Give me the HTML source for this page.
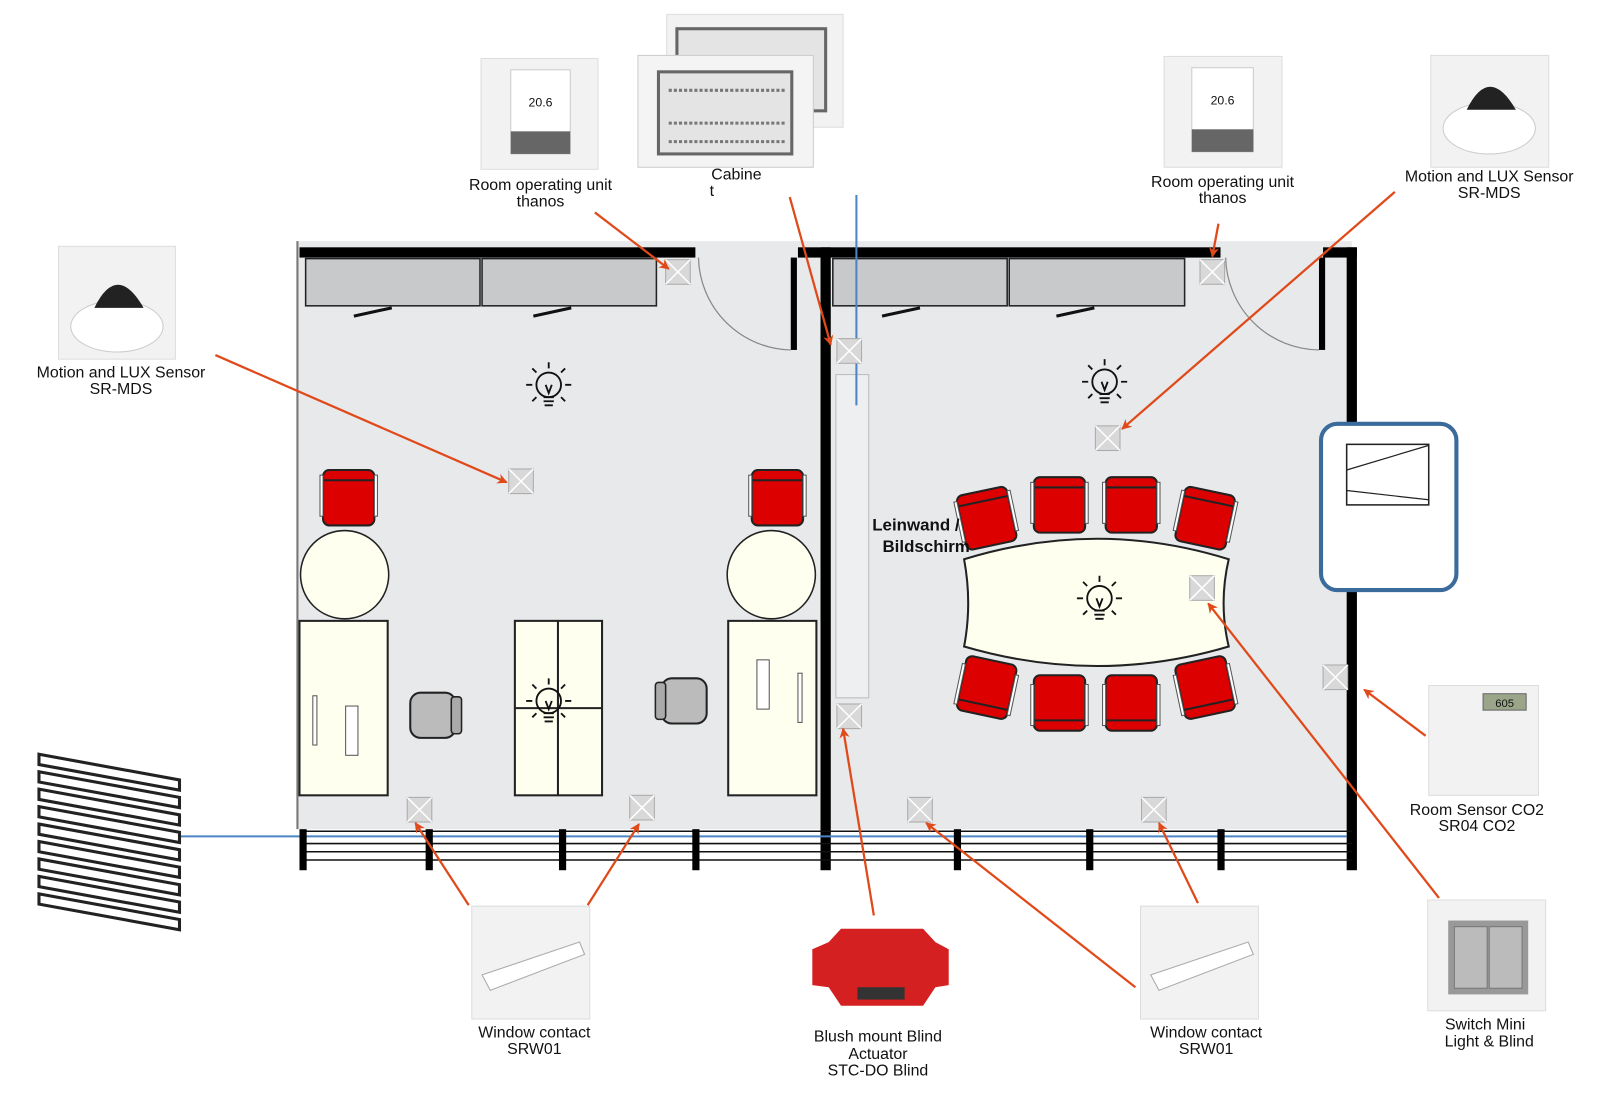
<!DOCTYPE html>
<html><head><meta charset="utf-8"><style>
html,body{margin:0;padding:0;background:#fff;}
svg{display:block;}
text{font-family:"Liberation Sans",sans-serif;font-size:15.5px;fill:#111;text-anchor:middle;}
</style></head><body>
<svg width="1600" height="1096" viewBox="0 0 1560 1068" preserveAspectRatio="none" xmlns="http://www.w3.org/2000/svg">
<defs>
<marker id="ah" markerWidth="10" markerHeight="10" refX="9" refY="5" orient="auto" markerUnits="userSpaceOnUse">
<path d="M0,0 L10,5 L0,10 L3,5 z" fill="#e04a1a"/></marker>
<g id="sen"><rect x="-12" y="-12" width="24" height="24" fill="#d8d8d8" stroke="#aaa"/><path d="M-12,-12 L12,12 M12,-12 L-12,12" stroke="#fff" stroke-width="1.5"/></g>
<g id="bulb" fill="none" stroke="#111" stroke-width="1.8"><circle cx="0" cy="-2" r="12"/><path d="M-5,10 h10 M-5,14 h10 M-4,18 h8 M-3,-2 l3,8 l3,-8"/><path d="M0,-24 v6 M-16,-18 l4,4 M16,-18 l-4,4 M-22,-2 h6 M22,-2 h-6 M-16,14 l4,-4 M16,14 l-4,-4"/></g>
<g id="rch"><rect x="-25" y="-27" width="50" height="54" rx="6" fill="#dd0000" stroke="#222" stroke-width="2"/><line x1="-25" y1="-17" x2="25" y2="-17" stroke="#222" stroke-width="2"/><rect x="-28" y="-22" width="3" height="40" fill="#fff" stroke="#555"/><rect x="25" y="-22" width="3" height="40" fill="#fff" stroke="#555"/></g>
<g id="gch"><rect x="-22" y="-22" width="44" height="44" rx="10" fill="#bbb" stroke="#222" stroke-width="2"/><rect x="18" y="-18" width="10" height="36" rx="3" fill="#aaa" stroke="#222" stroke-width="1.5"/></g>
</defs>

<rect x="289" y="235" width="516" height="573" fill="#e8e9eb"/>
<rect x="805" y="235" width="513" height="573" fill="#e8e9eb"/>
<line x1="290" y1="235" x2="290" y2="808" stroke="#777" stroke-width="2"/>
<rect x="292" y="241" width="386" height="10" fill="#000"/>
<rect x="778" y="241" width="412" height="10" fill="#000"/>
<rect x="1290" y="241" width="33" height="10" fill="#000"/>
<rect x="771" y="251" width="6" height="90" fill="#000"/>
<rect x="1286" y="251" width="6" height="90" fill="#000"/>
<path d="M681,251 A92,92 0 0 0 771,341" fill="none" stroke="#888" stroke-width="1.2"/>
<path d="M1195,251 A92,92 0 0 0 1286,341" fill="none" stroke="#888" stroke-width="1.2"/>
<rect x="298" y="252" width="170" height="46" fill="#c8c9cb" stroke="#222" stroke-width="1.5"/>
<rect x="470" y="252" width="170" height="46" fill="#c8c9cb" stroke="#222" stroke-width="1.5"/>
<rect x="812" y="252" width="170" height="46" fill="#c8c9cb" stroke="#222" stroke-width="1.5"/>
<rect x="984" y="252" width="171" height="46" fill="#c8c9cb" stroke="#222" stroke-width="1.5"/>
<path d="M345,308 L382,300 M520,308 L557,300 M860,308 L897,300 M1030,308 L1067,300" stroke="#111" stroke-width="3"/>
<rect x="800" y="241" width="10" height="607" fill="#000"/>
<rect x="1313" y="241" width="10" height="607" fill="#000"/>
<rect x="815" y="365" width="32" height="315" fill="#eeeff1" stroke="#bbb"/>
<line x1="835" y1="190" x2="835" y2="395" stroke="#4a86c5" stroke-width="2"/>
<g stroke="#111" stroke-width="1.5"><line x1="292" y1="810" x2="1318" y2="810"/><line x1="292" y1="822" x2="1318" y2="822"/><line x1="292" y1="830" x2="1318" y2="830"/><line x1="292" y1="838" x2="1318" y2="838"/></g>
<line x1="175" y1="815" x2="1313" y2="815" stroke="#4a86c5" stroke-width="2"/>
<g fill="#000"><rect x="292" y="808" width="7" height="40"/><rect x="415" y="808" width="7" height="40"/><rect x="545" y="808" width="7" height="40"/><rect x="675" y="808" width="7" height="40"/><rect x="930" y="808" width="7" height="40"/><rect x="1059" y="808" width="7" height="40"/><rect x="1187" y="808" width="7" height="40"/></g>

<use href="#rch" x="340" y="485"/><use href="#rch" x="758" y="485"/>
<circle cx="336" cy="560" r="43" fill="#fffff0" stroke="#222" stroke-width="1.5"/>
<circle cx="752" cy="560" r="43" fill="#fffff0" stroke="#222" stroke-width="1.5"/>
<rect x="292" y="605" width="86" height="170" fill="#fffff0" stroke="#222" stroke-width="2"/>
<rect x="502" y="605" width="85" height="170" fill="#fffff0" stroke="#222" stroke-width="2"/>
<path d="M544,605 V775 M502,690 H587" stroke="#222" stroke-width="2"/>
<rect x="710" y="605" width="86" height="170" fill="#fffff0" stroke="#222" stroke-width="2"/>
<rect x="337" y="688" width="12" height="48" fill="#fff" stroke="#555"/><rect x="305" y="678" width="4" height="48" fill="#fff" stroke="#555"/>
<rect x="738" y="643" width="12" height="48" fill="#fff" stroke="#555"/><rect x="778" y="656" width="4" height="48" fill="#fff" stroke="#555"/>
<use href="#gch" x="422" y="697"/>
<use href="#gch" x="667" y="683" transform="rotate(180 667 683)"/>
<path d="M940,545 Q1070,505 1198,545 Q1188,588 1198,630 Q1070,668 940,630 Q948,588 940,545 Z" fill="#fffff0" stroke="#222" stroke-width="2"/>
<use href="#rch" x="962" y="505" transform="rotate(-12 962 505)"/>
<use href="#rch" x="1033" y="492"/><use href="#rch" x="1103" y="492"/>
<use href="#rch" x="1175" y="505" transform="rotate(12 1175 505)"/>
<use href="#rch" x="962" y="670" transform="rotate(192 962 670)"/>
<use href="#rch" x="1033" y="685" transform="rotate(180 1033 685)"/><use href="#rch" x="1103" y="685" transform="rotate(180 1103 685)"/>
<use href="#rch" x="1175" y="670" transform="rotate(168 1175 670)"/>
<text x="893" y="517" style="font-weight:bold;font-size:16.5px">Leinwand /</text>
<text x="903" y="538" style="font-weight:bold;font-size:16.5px">Bildschirm</text>

<use href="#bulb" x="535" y="377"/><use href="#bulb" x="535" y="685"/>
<use href="#bulb" x="1077" y="374"/><use href="#bulb" x="1072" y="585"/>

<rect x="1288" y="413" width="132" height="162" rx="16" fill="#fff" stroke="#3a6b9a" stroke-width="4"/>
<rect x="1313" y="433" width="80" height="59" fill="#fff" stroke="#222" stroke-width="1.5"/>
<line x1="1313" y1="458" x2="1393" y2="434" stroke="#222" stroke-width="1.2"/>
<line x1="1313" y1="478" x2="1393" y2="487" stroke="#222" stroke-width="1.2"/>

<g fill="none" stroke="#222" stroke-width="3">
<path d="M38,735 L175,760 L175,770 L38,745 Z"/><path d="M38,752 L175,777 L175,787 L38,762 Z"/><path d="M38,769 L175,794 L175,804 L38,779 Z"/><path d="M38,786 L175,811 L175,821 L38,796 Z"/><path d="M38,803 L175,828 L175,838 L38,813 Z"/><path d="M38,820 L175,845 L175,855 L38,830 Z"/><path d="M38,837 L175,862 L175,872 L38,847 Z"/><path d="M38,854 L175,879 L175,889 L38,864 Z"/><path d="M38,871 L175,896 L175,906 L38,881 Z"/>
</g>

<use href="#sen" x="661" y="265"/><use href="#sen" x="508" y="469"/><use href="#sen" x="828" y="342"/><use href="#sen" x="828" y="698"/>
<use href="#sen" x="409" y="789"/><use href="#sen" x="626" y="787"/><use href="#sen" x="1182" y="265"/><use href="#sen" x="1080" y="427"/>
<use href="#sen" x="1172" y="573"/><use href="#sen" x="1302" y="660"/><use href="#sen" x="897" y="789"/><use href="#sen" x="1125" y="789"/>

<g fill="#f2f2f2" stroke="#ddd">
<rect x="57" y="240" width="114" height="110"/>
<rect x="469" y="57" width="114" height="108"/>
<rect x="650" y="14" width="172" height="110"/>
<rect x="1135" y="55" width="115" height="108"/>
<rect x="1395" y="54" width="115" height="109"/>
<rect x="1393" y="668" width="107" height="107"/>
<rect x="1392" y="877" width="115" height="108"/>
<rect x="460" y="883" width="115" height="110"/>
<rect x="1112" y="883" width="115" height="110"/>
</g>
<rect x="660" y="28" width="145" height="80" fill="#e4e4e4" stroke="#666" stroke-width="3"/>
<rect x="622" y="54" width="171" height="109" fill="#f4f4f4" stroke="#ccc"/>
<rect x="642" y="70" width="130" height="80" fill="#e4e4e4" stroke="#666" stroke-width="3"/>
<path d="M652,88 H765 M652,120 H765 M652,138 H765" stroke="#777" stroke-width="3" stroke-dasharray="3 2"/>
<ellipse cx="114" cy="318" rx="45" ry="25" fill="#fff" stroke="#ccc"/><path d="M92,300 Q114,255 140,300 Z" fill="#222"/>
<ellipse cx="1452" cy="125" rx="45" ry="25" fill="#fff" stroke="#ccc"/><path d="M1430,107 Q1452,62 1478,107 Z" fill="#222"/>
<rect x="498" y="68" width="58" height="82" fill="#fff" stroke="#ccc"/><rect x="498" y="128" width="58" height="22" fill="#666"/><text x="527" y="104" style="font-size:12px">20.6</text>
<rect x="1162" y="66" width="60" height="82" fill="#fff" stroke="#ccc"/><rect x="1162" y="126" width="60" height="22" fill="#666"/><text x="1192" y="102" style="font-size:12px">20.6</text>
<rect x="1446" y="676" width="42" height="16" fill="#9aa58a" stroke="#666"/><text x="1467" y="689" style="font-size:11px">605</text>
<rect x="1412" y="897" width="78" height="72" fill="#999"/><rect x="1418" y="903" width="32" height="60" fill="#bbb" stroke="#777"/><rect x="1452" y="903" width="32" height="60" fill="#bbb" stroke="#777"/>
<path d="M470,950 L565,918 L570,930 L478,965 Z" fill="#fff" stroke="#aaa"/>
<path d="M1122,950 L1217,918 L1222,930 L1130,965 Z" fill="#fff" stroke="#aaa"/>
<path d="M820,905 L900,905 L912,918 L925,925 L925,960 L912,962 L900,980 L820,980 L808,962 L792,960 L792,925 L808,918 Z" fill="#d42020"/>
<rect x="836" y="962" width="46" height="12" fill="#333"/>

<text x="118" y="368">Motion and LUX Sensor</text><text x="118" y="384">SR-MDS</text>
<text x="527" y="185">Room operating unit</text><text x="527" y="201">thanos</text>
<text x="718" y="175">Cabine</text><text x="694" y="191">t</text>
<text x="1192" y="182">Room operating unit</text><text x="1192" y="198">thanos</text>
<text x="1452" y="177">Motion and LUX Sensor</text><text x="1452" y="193">SR-MDS</text>
<text x="1440" y="794">Room Sensor CO2</text><text x="1440" y="810">SR04 CO2</text>
<text x="1448" y="1003">Switch Mini</text><text x="1452" y="1020">Light &amp; Blind</text>
<text x="521" y="1011">Window contact</text><text x="521" y="1027">SRW01</text>
<text x="856" y="1015">Blush mount Blind</text><text x="856" y="1032">Actuator</text><text x="856" y="1048">STC-DO Blind</text>
<text x="1176" y="1011">Window contact</text><text x="1176" y="1027">SRW01</text>

<g stroke="#e04a1a" stroke-width="2.2" fill="none" marker-end="url(#ah)">
<line x1="580" y1="207" x2="652" y2="262"/>
<line x1="210" y1="346" x2="494" y2="470"/>
<line x1="770" y1="192" x2="810" y2="336"/>
<line x1="1188" y1="218" x2="1182" y2="250"/>
<line x1="1360" y1="187" x2="1094" y2="418"/>
<line x1="1403" y1="875" x2="1178" y2="588"/>
<line x1="1390" y1="717" x2="1330" y2="672"/>
<line x1="852" y1="892" x2="822" y2="710"/>
<line x1="457" y1="882" x2="405" y2="802"/>
<line x1="573" y1="882" x2="623" y2="803"/>
<line x1="1107" y1="962" x2="903" y2="802"/>
<line x1="1168" y1="880" x2="1130" y2="802"/>
</g>
</svg>
</body></html>
